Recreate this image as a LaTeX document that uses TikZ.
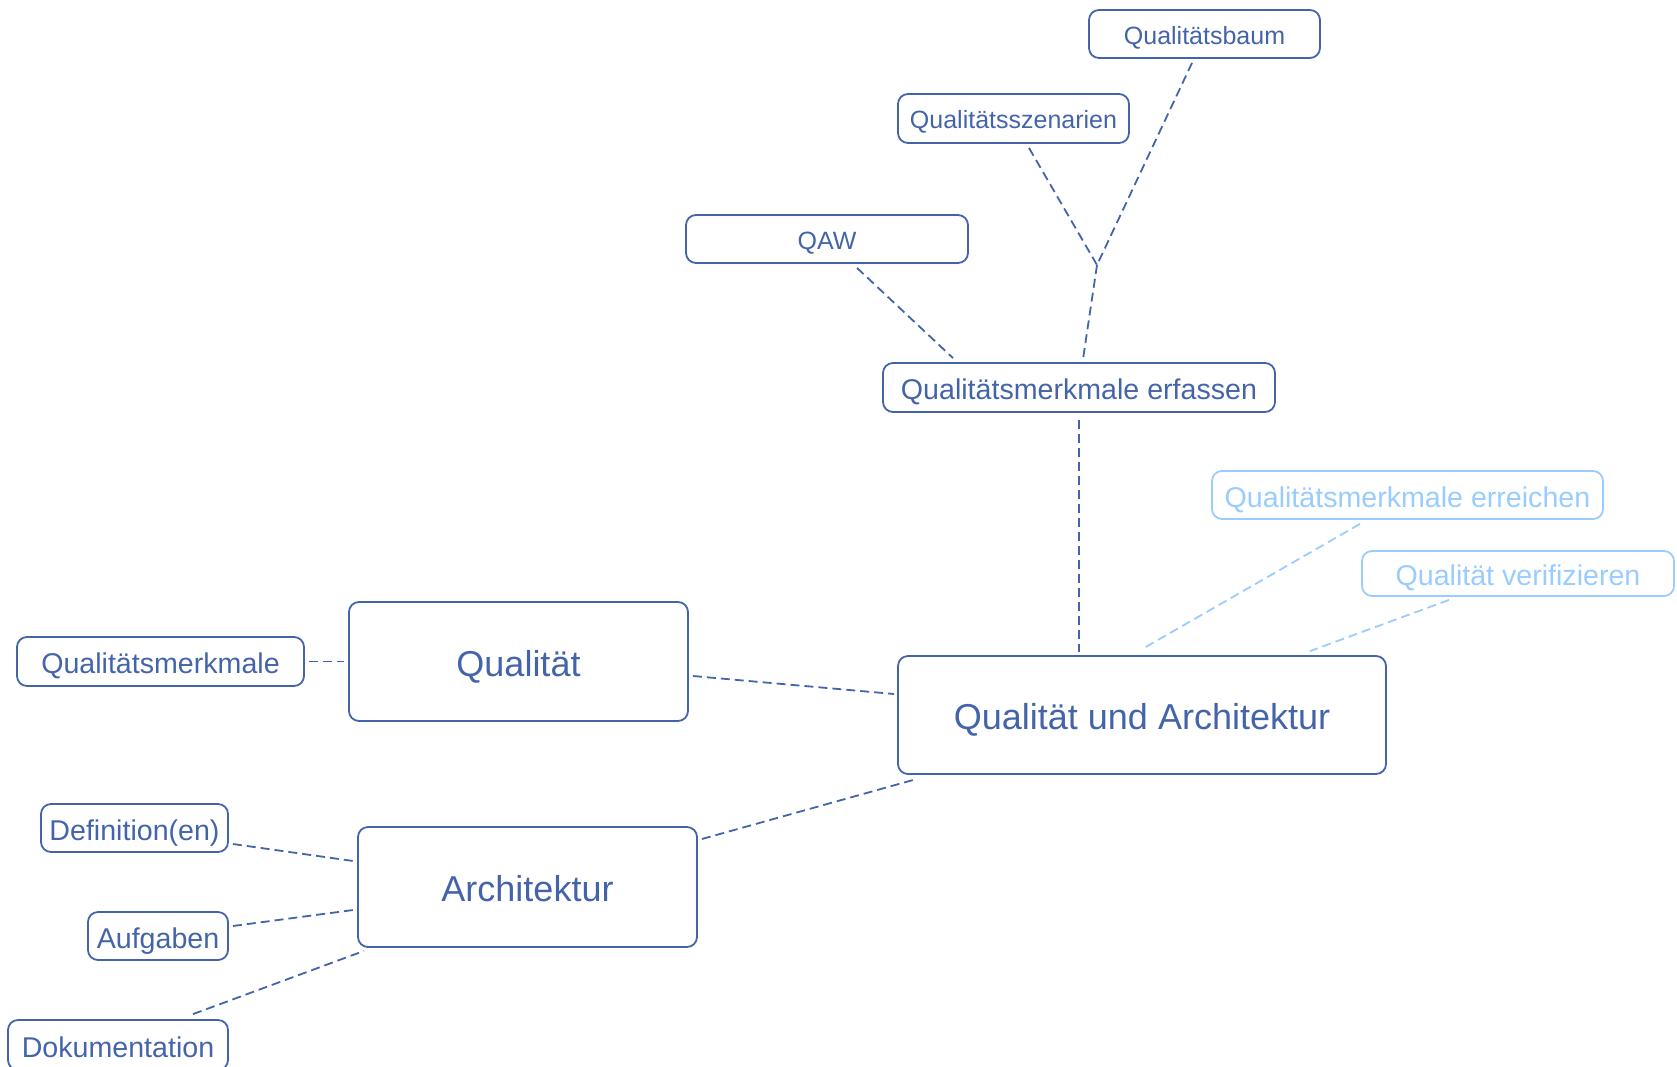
\documentclass[tikz,border=0pt]{standalone}
\usepackage{fontspec}
\setmainfont{Liberation Sans}
\usetikzlibrary{calc}
\definecolor{dblue}{RGB}{68,100,170}
\definecolor{lblue}{RGB}{153,204,255}
\begin{document}
\begin{tikzpicture}[x=1pt,y=-1pt,
  box/.style={draw=dblue,text=dblue,line width=1.8pt,rounded corners=10pt,inner sep=0pt,align=center,text depth=0pt},
  faint/.style={draw=lblue,text=lblue},
  small/.style={font=\fontsize{25}{30}\selectfont,text height=20pt},
  medium/.style={font=\fontsize{28.6}{34}\selectfont,text height=24pt},
  large/.style={font=\fontsize{36}{42}\selectfont,text height=29.5pt},
  link/.style={draw=dblue,line width=1.8pt,dash pattern=on 9pt off 5pt},
  faintlink/.style={link,draw=lblue}]
\useasboundingbox (0,0) rectangle (1677,1066);

% central topic and main branches
\node[box,large,minimum width=488pt,minimum height=118pt] (qua) at (1142,715) {Qualität und Architektur};
\node[box,large,minimum width=339pt,minimum height=119pt] (ql) at (518.5,661.5) {Qualität};
\node[box,large,minimum width=339pt,minimum height=120pt] (ar) at (527.5,887) {Architektur};
\node[box,medium,minimum width=392pt,minimum height=49pt] (erf) at (1079,387.5) {Qualitätsmerkmale erfassen};
\node[box,medium,faint,minimum width=391pt,minimum height=48pt] (err) at (1407.5,495) {Qualitätsmerkmale erreichen};
\node[box,medium,faint,minimum width=312pt,minimum height=45pt] (ver) at (1518,573.5) {Qualität verifizieren};

% sub-topics
\node[box,small,minimum width=231pt,minimum height=48pt] (baum) at (1204.5,34) {Qualitätsbaum};
\node[box,small,minimum width=231pt,minimum height=49pt] (szen) at (1013.5,118.5) {Qualitätsszenarien};
\node[box,small,minimum width=282pt,minimum height=48pt] (qaw) at (827,239) {QAW};
\node[box,medium,minimum width=287pt,minimum height=49pt] (qm) at (160.5,661.5) {Qualitätsmerkmale};
\node[box,medium,minimum width=187pt,minimum height=48pt] (def) at (134.5,828) {Definition(en)};
\node[box,medium,minimum width=140pt,minimum height=48pt] (auf) at (158,936) {Aufgaben};
\node[box,medium,minimum width=220pt,minimum height=50pt] (dok) at (118,1045) {Dokumentation};

\coordinate (j) at (1097,265);

% connectors
\draw[link] ([shift={(15.5,4)}]szen.south) -- (j);
\draw[link] ([shift={(-12.5,4)}]baum.south) -- (j);
\draw[link] (j) -- ([shift={(4,-3)}]erf.north);
\draw[link] ([shift={(30,4)}]qaw.south) -- ([shift={(-126,-4)}]erf.north);
\draw[link] ([shift={(0,7)}]erf.south) -- ([shift={(-63,-3)}]qua.north);
\draw[faintlink] ([shift={(-47.5,4)}]err.south) -- ([shift={(0,-6)}]qua.north);
\draw[faintlink] ([shift={(-69,3)}]ver.south) -- ([shift={(168,-4)}]qua.north);
\draw[link] ([shift={(4,14.5)}]ql.east) -- ([shift={(-3,-21)}]qua.west);
\draw[link] ([shift={(4,0)}]qm.east) -- ([shift={(-4,0)}]ql.west);
\draw[link] ([shift={(4,-48)}]ar.east) -- ([shift={(-225,4)}]qua.south);
\draw[link] ([shift={(4,16)}]def.east) -- ([shift={(-4,-26)}]ar.west);
\draw[link] ([shift={(4,-10)}]auf.east) -- ([shift={(-4,23)}]ar.west);
\draw[link] ([shift={(75,-5)}]dok.north) -- ([shift={(-163.5,3)}]ar.south);
\end{tikzpicture}
\end{document}
